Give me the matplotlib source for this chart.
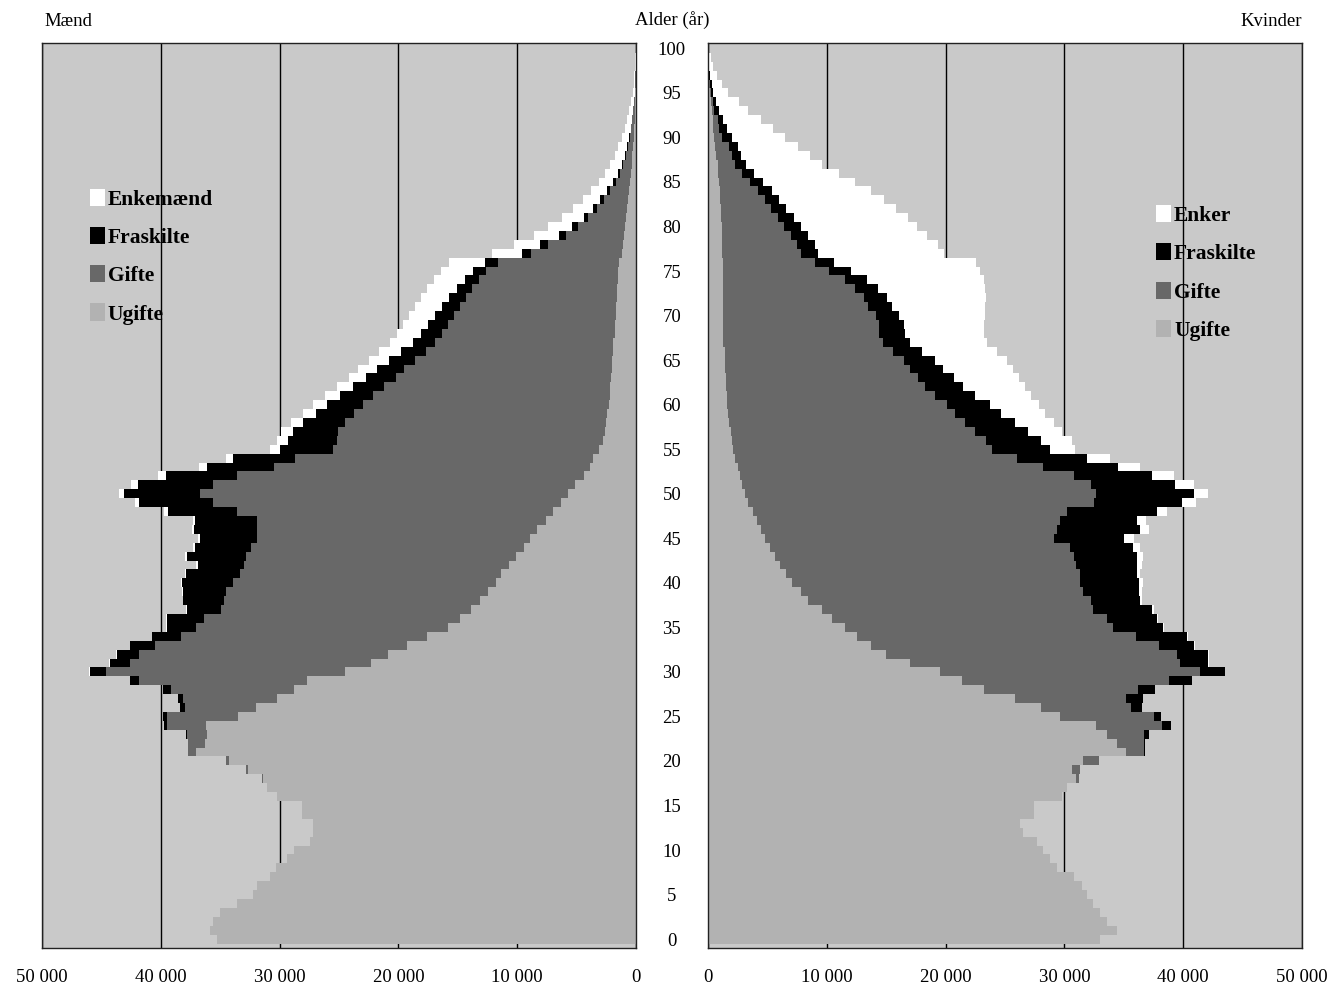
import numpy as np
import matplotlib
matplotlib.use("Agg")
import matplotlib.pyplot as plt
from matplotlib.patches import Patch

plt.rcParams['font.family'] = 'serif'
plt.rcParams['font.serif'] = ['Liberation Serif', 'DejaVu Serif']

ages = np.arange(0, 100)

# persons per one-year age group, in thousands
men_ugifte = [
    35.3, 35.9, 35.6, 35.0, 33.6, 32.2, 31.9, 30.8, 30.3, 29.4,
    28.8, 27.4, 27.2, 27.2, 28.1, 28.1, 30.2, 31.1, 31.4, 32.7,
    34.3, 37.0, 36.3, 36.1, 36.2, 33.5, 32.0, 30.2, 28.8, 27.7,
    24.5, 22.3, 20.9, 19.3, 17.6, 15.8, 14.8, 13.9, 13.1, 12.5,
    11.8, 11.4, 10.7, 10.1, 9.4, 8.9, 8.3, 7.6, 7.0, 6.3,
    5.7, 5.1, 4.4, 3.9, 3.6, 3.1, 2.8, 2.6, 2.5, 2.4,
    2.3, 2.2, 2.2, 2.1, 2.0, 2.0, 1.9, 1.9, 1.8, 1.8,
    1.7, 1.7, 1.6, 1.6, 1.5, 1.5, 1.4, 1.2, 1.1, 1.0,
    0.95, 0.85, 0.75, 0.65, 0.55, 0.5, 0.42, 0.36, 0.3, 0.25,
    0.2, 0.16, 0.12, 0.09, 0.07, 0.05, 0.04, 0.03, 0.02, 0.01]
men_gifte = [
    0, 0, 0, 0, 0, 0, 0, 0, 0, 0,
    0, 0, 0, 0, 0, 0, 0, 0, 0.05, 0.15,
    0.25, 0.7, 1.4, 1.7, 3.3, 6.0, 6.0, 7.9, 10.3, 14.1,
    20.1, 20.3, 20.9, 21.2, 20.7, 21.2, 21.6, 21.0, 21.6, 22.0,
    22.1, 21.9, 22.3, 22.7, 23.0, 23.0, 23.6, 24.3, 26.6, 29.3,
    31.0, 30.5, 29.2, 26.6, 25.1, 22.4, 22.4, 22.5, 22.0, 21.3,
    20.7, 19.9, 19.0, 18.1, 17.5, 16.6, 15.8, 15.0, 14.5, 14.0,
    13.6, 13.1, 12.7, 12.2, 11.7, 11.1, 10.2, 7.6, 6.3, 4.9,
    3.95, 3.15, 2.5, 2.05, 1.6, 1.2, 0.92, 0.71, 0.55, 0.42,
    0.34, 0.24, 0.19, 0.13, 0.09, 0.06, 0.04, 0.02, 0.01, 0.01]
men_fraskilte = [
    0, 0, 0, 0, 0, 0, 0, 0, 0, 0,
    0, 0, 0, 0, 0, 0, 0, 0, 0, 0,
    0, 0.02, 0.03, 0.05, 0.2, 0.3, 0.35, 0.45, 0.7, 0.8,
    1.4, 1.7, 1.9, 2.1, 2.4, 2.5, 3.1, 2.9, 3.4, 3.6,
    4.3, 4.6, 3.9, 5.0, 4.7, 4.8, 5.3, 5.2, 5.8, 6.2,
    6.4, 6.3, 6.0, 5.6, 5.2, 4.5, 4.1, 3.8, 3.5, 3.2,
    3.0, 2.8, 2.6, 2.5, 2.3, 2.2, 2.1, 1.9, 1.8, 1.7,
    1.6, 1.5, 1.4, 1.3, 1.2, 1.1, 1.1, 0.8, 0.7, 0.6,
    0.5, 0.4, 0.35, 0.3, 0.25, 0.2, 0.16, 0.13, 0.1, 0.08,
    0.06, 0.05, 0.04, 0.03, 0.02, 0.01, 0, 0, 0, 0]
men_enkemaend = [
    0, 0, 0, 0, 0, 0, 0, 0, 0, 0,
    0, 0, 0, 0, 0, 0, 0, 0, 0, 0,
    0, 0, 0, 0, 0, 0, 0, 0, 0, 0,
    0.02, 0.02, 0.03, 0.03, 0.04, 0.05, 0.05, 0.06, 0.07, 0.08,
    0.1, 0.1, 0.12, 0.13, 0.15, 0.18, 0.2, 0.22, 0.3, 0.4,
    0.4, 0.6, 0.6, 0.7, 0.6, 0.8, 0.9, 1.0, 1.0, 1.1,
    1.2, 1.3, 1.4, 1.5, 1.6, 1.7, 1.8, 1.9, 2.0, 2.1,
    2.2, 2.3, 2.4, 2.5, 2.6, 2.7, 3.0, 2.5, 2.2, 2.1,
    2.0, 1.8, 1.7, 1.5, 1.4, 1.2, 1.1, 1.0, 0.85, 0.75,
    0.6, 0.5, 0.4, 0.3, 0.22, 0.16, 0.12, 0.08, 0.05, 0.03]

women_ugifte = [
    33.0, 34.4, 33.6, 33.0, 32.4, 31.9, 31.5, 30.8, 29.4, 28.8,
    28.2, 27.7, 26.5, 26.3, 27.4, 27.4, 29.8, 30.2, 31.0, 30.6,
    31.6, 35.2, 34.4, 33.6, 32.7, 29.6, 28.0, 25.8, 23.2, 21.4,
    19.5, 17.0, 15.0, 13.7, 12.5, 11.5, 10.4, 9.6, 8.4, 7.8,
    7.1, 6.6, 6.1, 5.6, 5.2, 4.8, 4.5, 4.1, 3.8, 3.4,
    3.1, 2.9, 2.7, 2.5, 2.3, 2.1, 2.0, 1.9, 1.8, 1.7,
    1.6, 1.6, 1.5, 1.5, 1.4, 1.4, 1.4, 1.3, 1.3, 1.3,
    1.3, 1.3, 1.3, 1.3, 1.3, 1.3, 1.3, 1.2, 1.2, 1.2,
    1.2, 1.1, 1.1, 1.0, 1.0, 0.9, 0.85, 0.8, 0.7, 0.6,
    0.5, 0.45, 0.38, 0.3, 0.22, 0.15, 0.1, 0.07, 0.04, 0.02]
women_gifte = [
    0, 0, 0, 0, 0, 0, 0, 0, 0, 0,
    0, 0, 0, 0, 0, 0, 0, 0.05, 0.2, 0.7,
    1.3, 1.5, 2.3, 3.1, 5.5, 7.9, 7.6, 9.4, 13.0, 17.4,
    21.9, 22.7, 24.5, 24.3, 23.5, 22.6, 23.2, 22.8, 23.8, 23.8,
    24.2, 24.7, 24.9, 25.2, 25.3, 24.3, 24.9, 25.5, 26.4, 29.1,
    29.6, 29.3, 28.1, 25.7, 23.7, 21.8, 21.4, 20.6, 19.8, 19.1,
    18.5, 17.5, 16.8, 16.2, 15.6, 15.1, 14.2, 13.4, 13.1, 13.1,
    12.8, 12.2, 11.8, 11.1, 10.2, 8.9, 7.7, 6.6, 6.3, 5.8,
    5.2, 4.8, 4.2, 3.8, 3.2, 2.6, 2.05, 1.5, 1.3, 1.15,
    0.7, 0.5, 0.42, 0.2, 0.18, 0.1, 0.08, 0.05, 0.03, 0.02]
women_fraskilte = [
    0, 0, 0, 0, 0, 0, 0, 0, 0, 0,
    0, 0, 0, 0, 0, 0, 0, 0, 0, 0,
    0, 0.05, 0.1, 0.4, 0.8, 0.6, 0.9, 1.4, 1.4, 1.9,
    2.1, 2.4, 2.6, 2.9, 4.3, 4.2, 4.2, 5.0, 4.2, 4.7,
    5.0, 4.8, 5.1, 5.3, 5.3, 5.9, 7.0, 6.5, 7.6, 7.4,
    8.2, 7.1, 6.6, 6.3, 5.9, 4.9, 4.6, 4.4, 4.2, 3.9,
    3.6, 3.4, 3.2, 3.0, 2.8, 2.6, 2.4, 2.3, 2.2, 2.1,
    2.0, 2.0, 2.0, 1.9, 1.9, 1.8, 1.6, 1.5, 1.5, 1.4,
    1.4, 1.3, 1.3, 1.2, 1.2, 1.1, 1.0, 0.9, 0.8, 0.75,
    0.8, 0.65, 0.5, 0.4, 0.3, 0.2, 0.12, 0.08, 0.05, 0.03]
women_enker = [
    0, 0, 0, 0, 0, 0, 0, 0, 0, 0,
    0, 0, 0, 0, 0, 0, 0, 0, 0, 0,
    0, 0, 0, 0, 0, 0, 0, 0, 0, 0,
    0.05, 0.05, 0.06, 0.08, 0.1, 0.1, 0.1, 0.1, 0.15, 0.2,
    0.3, 0.3, 0.4, 0.5, 0.6, 0.9, 0.7, 0.8, 0.8, 1.2,
    1.2, 1.6, 1.8, 1.9, 1.9, 2.1, 2.6, 2.9, 3.3, 3.7,
    4.2, 4.7, 5.2, 5.5, 5.9, 6.1, 6.3, 6.5, 6.6, 6.7,
    7.2, 7.8, 8.3, 9.0, 9.8, 10.9, 12.0, 10.6, 10.4, 10.0,
    9.8, 9.6, 9.2, 8.8, 8.3, 7.8, 7.1, 6.4, 5.8, 5.1,
    4.5, 3.9, 3.2, 2.5, 1.9, 1.25, 0.9, 0.55, 0.33, 0.18]

men_labels = ['Ugifte', 'Gifte', 'Fraskilte', 'Enkemænd']
women_labels = ['Ugifte', 'Gifte', 'Fraskilte', 'Enker']
status_colors = ['#b2b2b2', '#686868', '#000000', '#ffffff']
bg_color = '#c9c9c9'

x_ticks = [0, 10000, 20000, 30000, 40000, 50000]
x_ticklabels = ['0', '10 000', '20 000', '30 000', '40 000', '50 000']
age_ticks = list(range(0, 101, 5))

W, H = 1338, 988
fig = plt.figure(figsize=(W / 100, H / 100), dpi=100)
bottom = (H - 948) / H
height = 905 / H
ax_m = fig.add_axes([42 / W, bottom, 594 / W, height])
ax_w = fig.add_axes([708 / W, bottom, 594 / W, height])


def draw_side(ax, series):
    left = np.zeros(len(ages))
    for vals, col in zip(series, status_colors):
        v = np.array(vals) * 1000
        ax.barh(ages, v, left=left, height=1.0, color=col,
                edgecolor='none', linewidth=0, antialiased=False, zorder=2)
        left += v
    ax.set_facecolor(bg_color)
    ax.set_ylim(-1.0, 100.6)
    ax.set_xticks(x_ticks)
    ax.set_xticklabels(x_ticklabels)
    ax.tick_params(axis='x', length=0, pad=15, labelsize=13.5)
    ax.set_axisbelow(True)
    ax.grid(axis='x', color='black', linewidth=1.0)
    for s in ax.spines.values():
        s.set_color('#222222')
        s.set_linewidth(1.0)


draw_side(ax_m, [men_ugifte, men_gifte, men_fraskilte, men_enkemaend])
draw_side(ax_w, [women_ugifte, women_gifte, women_fraskilte, women_enker])

ax_m.set_xlim(50000, 0)
ax_w.set_xlim(0, 50000)
ax_m.set_yticks([])

ax_w.set_yticks(age_ticks)
ax_w.set_yticklabels([str(a) for a in age_ticks], ha='center')
ax_w.tick_params(axis='y', length=0, pad=26, labelsize=13.5)

leg_font = {'weight': 'bold', 'size': 15.5}
handles = [Patch(facecolor=c, edgecolor='none') for c in status_colors[::-1]]
ax_m.legend(handles, men_labels[::-1], loc='upper left',
            bbox_to_anchor=(0.08, 0.839), frameon=False, prop=leg_font,
            handlelength=0.7, handleheight=0.85, handletextpad=0.15,
            labelspacing=0.8, borderaxespad=0, borderpad=0)
ax_w.legend(handles, women_labels[::-1], loc='upper left',
            bbox_to_anchor=(0.754, 0.821), frameon=False, prop=leg_font,
            handlelength=0.7, handleheight=0.85, handletextpad=0.15,
            labelspacing=0.8, borderaxespad=0, borderpad=0)

fig.text(44 / W, 1 - 22 / H, 'Mænd', ha='left', va='center', fontsize=13.5)
fig.text(672 / W, 1 - 20 / H, 'Alder (år)', ha='center', va='center', fontsize=13.5)
fig.text(1302 / W, 1 - 22 / H, 'Kvinder', ha='right', va='center', fontsize=13.5)

fig.savefig('out.png', dpi=100)
